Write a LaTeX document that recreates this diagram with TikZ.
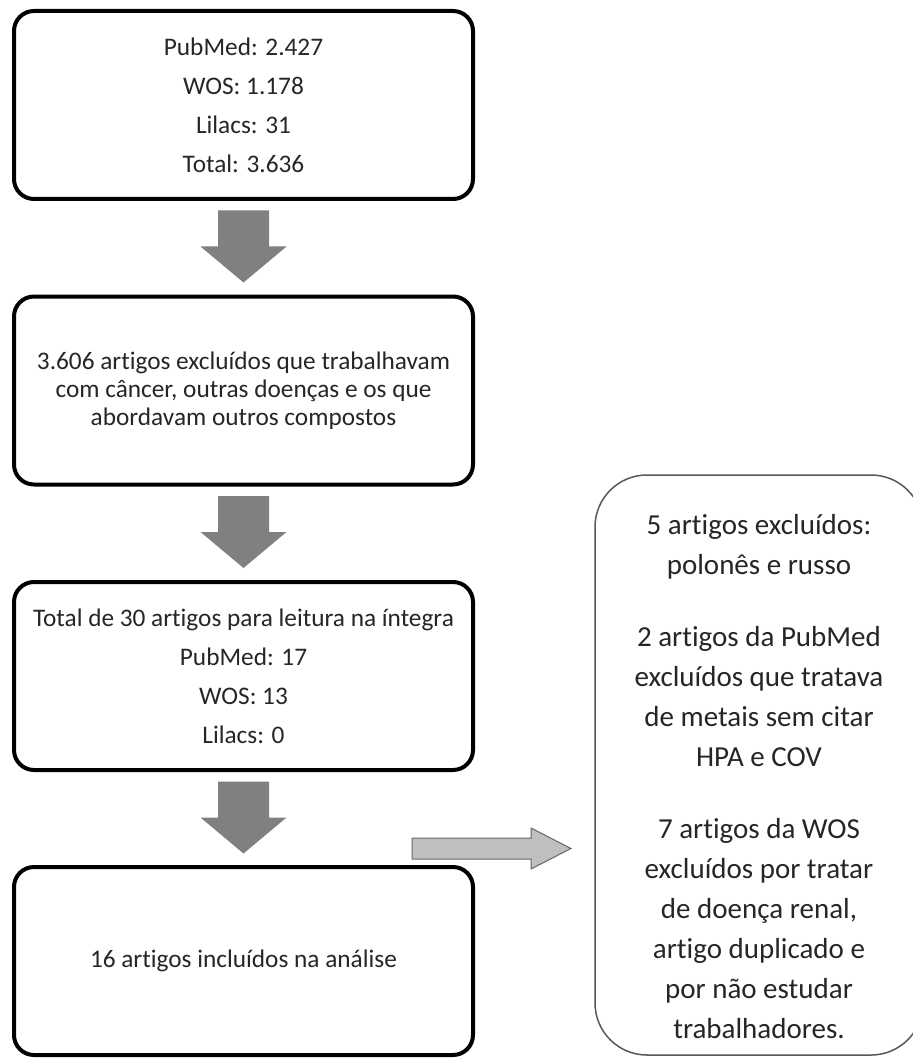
\documentclass[tikz,border=0pt]{standalone}
\usepackage{fontspec}
\setmainfont{Carlito}[Ligatures=NoCommon]
\begin{document}
\begin{tikzpicture}[x=1pt,y=1pt,
  box/.style={draw=black, line width=4pt, rounded corners=20pt, minimum width=459pt, minimum height=188pt, inner sep=0pt, fill=white, align=center, text=black!85},
  bigtext/.style={font=\fontsize{25.3}{39}\selectfont},
  tighttext/.style={font=\fontsize{25.3}{28}\selectfont},
  sidebox/.style={draw=black!65, line width=1.5pt, rounded corners=52pt, minimum width=328pt, minimum height=580pt, inner sep=0pt},
  sidetext/.style={font=\fontsize{29}{40}\selectfont, align=center, text=black!85},
  sidearrow/.style={fill=black!25, draw=black!60, line width=1pt},
  downarrow/.pic={\fill[black!50] (-25.5,0) -- (25.5,0) -- (25.5,-36) -- (43,-36) -- (0,-72) -- (-43,-36) -- (-25.5,-36) -- cycle;},
]
\useasboundingbox (0,0) rectangle (912,-1059);
\fill[white] (0,0) rectangle (912,-1059);

\node[box,bigtext] (b1) at (243.5,-105) {PubMed: 2.427\\WOS: 1.178\\Lilacs: 31\\Total: 3.636};
\node[box,tighttext] (b2) at (243.5,-390.5) {3.606 artigos excluídos que trabalhavam\\com câncer, outras doenças e os que\\abordavam outros compostos};
\node[box,bigtext] (b3) at (243.5,-676) {Total de 30 artigos para leitura na íntegra\\PubMed: 17\\WOS: 13\\Lilacs: 0};
\node[box,bigtext] (b4) at (243.5,-961) {16 artigos incluídos na análise};

\pic at ([yshift=-9.5pt]b1.south) {downarrow};
\pic at ([yshift=-9.5pt]b2.south) {downarrow};
\pic at ([yshift=-9.5pt]b3.south) {downarrow};

\node[sidebox] (s) at (759,-765) {};
\node[sidetext] (st) at (759,-777) {5 artigos excluídos:\\polonês e russo\\[32pt]2 artigos da PubMed\\excluídos que tratava\\de metais sem citar\\HPA e COV\\[32pt]7 artigos da WOS\\excluídos por tratar\\de doença renal,\\artigo duplicado e\\por não estudar\\trabalhadores.};

\coordinate (h) at (412,-848.5);
\draw[sidearrow] (h) ++(0,10.5) -- ++(119,0) -- ++(0,10) -- ++(40,-20.5) -- ++(-40,-20.5) -- ++(0,10) -- ++(-119,0) -- cycle;
\end{tikzpicture}
\end{document}
